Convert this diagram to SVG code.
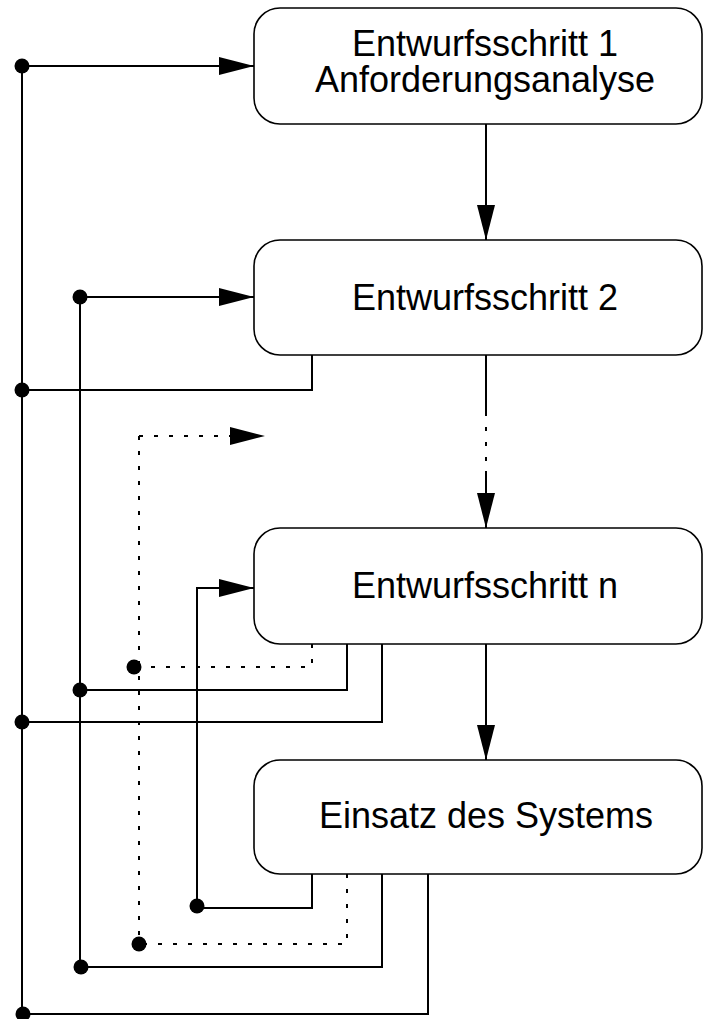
<svg xmlns="http://www.w3.org/2000/svg" width="703" height="1019" viewBox="0 0 703 1019">
  <style>
    .box { fill: #ffffff; stroke: #000000; stroke-width: 1.6; }
    .lbl { font-family: "Liberation Sans", Arial, Helvetica, sans-serif; font-size: 36px; fill: #000000; text-anchor: middle; }
    .ln { fill: none; stroke: #000000; stroke-width: 2; }
    .dot { fill: none; stroke: #000000; stroke-width: 2; stroke-dasharray: 4 11; }
    .jn { fill: #000000; }
  </style>
  <defs>
    <marker id="arrow" markerUnits="userSpaceOnUse" markerWidth="36" markerHeight="20" refX="35" refY="9" orient="auto">
      <path d="M0,0 L35,9 L0,18 Z" fill="#000000"/>
    </marker>
  </defs>

  <rect width="703" height="1019" fill="#ffffff"/>

  <!-- process steps -->
  <g id="step1">
    <rect class="box" x="254" y="8" width="448" height="116" rx="26" ry="26"/>
    <text class="lbl" x="485" y="56"><tspan x="485" y="56">Entwurfsschritt 1</tspan><tspan x="485" y="92">Anforderungsanalyse</tspan></text>
  </g>
  <g id="step2">
    <rect class="box" x="254" y="240" width="448" height="115" rx="26" ry="26"/>
    <text class="lbl" x="485" y="310">Entwurfsschritt 2</text>
  </g>
  <g id="stepN">
    <rect class="box" x="254" y="528" width="448" height="116" rx="26" ry="26"/>
    <text class="lbl" x="485" y="598">Entwurfsschritt n</text>
  </g>
  <g id="deployment">
    <rect class="box" x="254" y="760" width="448" height="114" rx="26" ry="26"/>
    <text class="lbl" x="486" y="828">Einsatz des Systems</text>
  </g>

  <g id="connectors">
    <!-- forward flow -->
    <line class="ln" x1="486" y1="124" x2="486" y2="240" marker-end="url(#arrow)"/>
    <line class="ln" x1="486" y1="355" x2="486" y2="412"/>
    <line class="ln" x1="486" y1="412" x2="486" y2="471" stroke-dasharray="4 11"/>
    <line class="ln" x1="486" y1="471" x2="486" y2="528" marker-end="url(#arrow)"/>
    <line class="ln" x1="486" y1="644" x2="486" y2="760" marker-end="url(#arrow)"/>

    <!-- feedback bus to step 1 -->
    <line class="ln" x1="22" y1="66" x2="254" y2="66" marker-end="url(#arrow)"/>
    <line class="ln" x1="22" y1="66" x2="22" y2="1014"/>
    <polyline class="ln" points="312,355 312,390 22,390"/>
    <polyline class="ln" points="382,644 382,722 22,722"/>
    <polyline class="ln" points="428,874 428,1014 22,1014"/>

    <!-- feedback bus to step 2 -->
    <line class="ln" x1="80" y1="297" x2="254" y2="297" marker-end="url(#arrow)"/>
    <line class="ln" x1="80" y1="297" x2="80" y2="967"/>
    <polyline class="ln" points="347,644 347,690 80,690"/>
    <polyline class="ln" points="382,874 382,967 80,967"/>

    <!-- feedback bus to intermediate steps (dotted) -->
    <line class="dot" x1="139" y1="436" x2="230" y2="436"/>
    <path d="M230,427 L265,436 L230,445 Z" fill="#000000"/>
    <line class="dot" x1="139" y1="436" x2="139" y2="944"/>
    <polyline class="dot" points="312,644 312,667 139,667"/>
    <polyline class="dot" points="347,874 347,944 139,944"/>

    <!-- feedback to step n -->
    <polyline class="ln" points="197,907 197,588 254,588" marker-end="url(#arrow)"/>
    <polyline class="ln" points="197,908 312,908 312,874"/>

    <!-- junction points -->
    <circle class="jn" cx="22" cy="66" r="7.5"/>
    <circle class="jn" cx="22" cy="390" r="7.5"/>
    <circle class="jn" cx="22" cy="722" r="7.5"/>
    <circle class="jn" cx="23" cy="1014" r="7.5"/>
    <circle class="jn" cx="80" cy="297" r="7.5"/>
    <circle class="jn" cx="80" cy="690" r="7.5"/>
    <circle class="jn" cx="81" cy="967" r="7.5"/>
    <circle class="jn" cx="134" cy="667" r="7.5"/>
    <circle class="jn" cx="139" cy="944" r="7.5"/>
    <circle class="jn" cx="197" cy="906" r="7.5"/>
  </g>
</svg>
